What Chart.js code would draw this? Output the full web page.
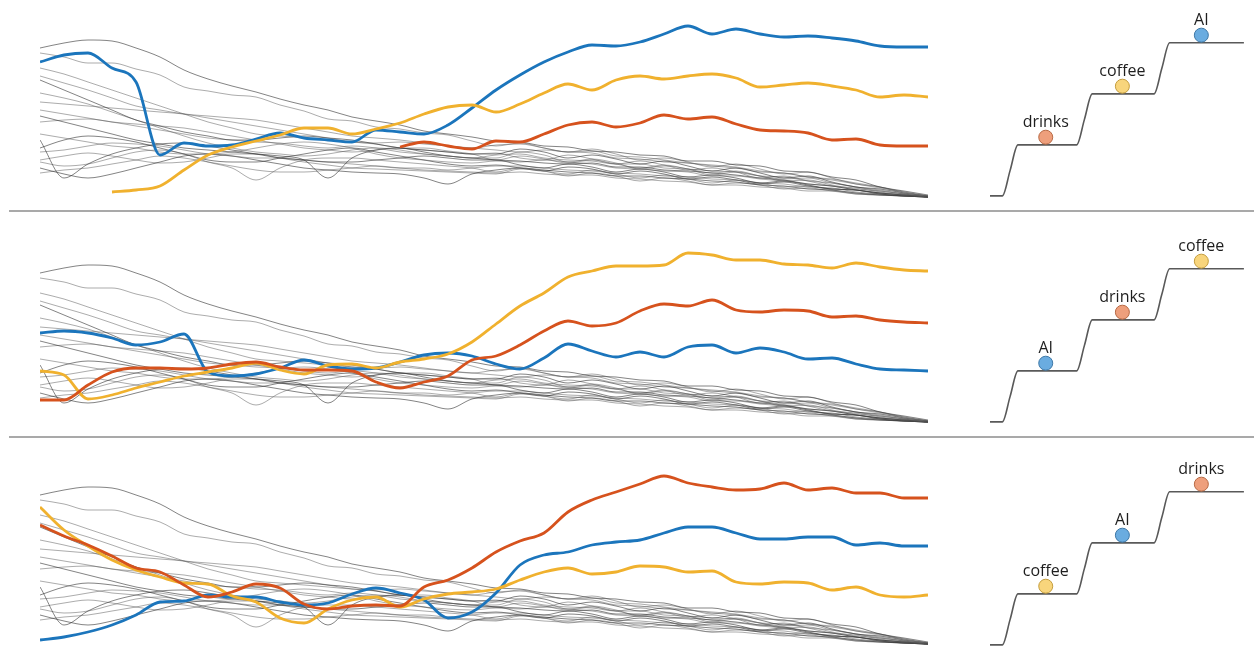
<!DOCTYPE html>
<html>
<head>
<meta charset="utf-8">
<script src="https://cdn.jsdelivr.net/npm/chart.js@4"></script>
<style>
  body { margin: 0; background: #fff; width: 1254px; height: 647px; overflow: hidden; position: relative; }
  canvas { position: absolute; }
  .rule { position: absolute; left: 9px; right: 0; height: 0; border-top: 2px solid #a9a9a9; }
</style>
</head>
<body>
<div class="rule" style="top:210px"></div>
<div class="rule" style="top:436px"></div>

<canvas id="line1" width="888" height="190" style="left:40px;top:8px"></canvas>
<canvas id="line2" width="888" height="190" style="left:40px;top:233px"></canvas>
<canvas id="line3" width="888" height="190" style="left:40px;top:455px"></canvas>

<canvas id="stair1" width="257" height="199" style="left:990px;top:2px"></canvas>
<canvas id="stair2" width="257" height="199" style="left:990px;top:228px"></canvas>
<canvas id="stair3" width="257" height="199" style="left:990px;top:451px"></canvas>

<script>
// time positions
const colX = [0,1,2,3,4,5,6,7,8,9,10,11,12,13,14,15,16,17,18,19,20,21,22,23,24,25,26,27,28,29,30,31,32,33,34,35,36,37];

// panel 1
const p1AI     = [136,143,145,130,116,43,55,52,53,59,65,60,58,56,68,66,64,73,90,108,123,136,146,153,152,156,164,172,164,169,164,161,162,160,157,152,151,151];
const p1Coffee = [null,null,null,6,8,12,28,43,51,57,63,70,70,64,69,75,84,91,93,86,94,105,114,108,118,122,119,122,124,120,111,113,115,112,108,101,103,101];
const p1Drinks = [null,null,null,null,null,null,null,null,null,null,null,null,null,null,null,51,56,52,49,57,56,64,73,76,71,75,83,79,81,74,68,67,65,58,59,53,52,52];

// panel 2
const p2AI     = [90,92,90,85,78,81,89,51,47,49,55,63,57,54,55,61,68,70,67,59,54,65,79,72,66,71,66,76,78,70,75,71,64,65,59,54,53,52];
const p2Coffee = [52,48,24,28,35,41,47,51,55,60,53,49,58,59,55,61,64,69,81,99,117,130,146,152,157,157,158,170,168,163,163,159,158,155,160,156,153,152];
const p2Drinks = [23,23,38,51,55,55,54,55,59,61,56,53,53,52,41,35,41,47,63,67,78,92,102,97,100,112,119,117,123,113,111,113,112,106,107,103,101,100];

// panel 3
const p3AI     = [5,8,13,20,30,43,44,50,48,48,43,40,42,51,57,52,45,27,33,52,80,90,93,100,103,105,112,118,118,112,106,106,108,108,100,102,99,99];
const p3Coffee = [138,115,99,85,75,68,62,61,49,43,27,22,36,45,48,38,46,51,53,56,65,73,77,71,73,79,78,73,74,63,61,63,62,55,58,50,48,50];
const p3Drinks = [120,109,100,89,77,73,60,48,53,61,57,41,36,39,40,39,58,65,77,93,104,112,133,145,153,161,169,162,158,155,156,162,155,157,152,152,147,147];

// background topics (grey)
const gray01 = [150,155,158,157,150,141,128,119,112,106,99,93,88,81,77,73,67,64,61,57,56,52,51,47,46,43,42,37,37,33,32,27,26,21,18,11,7,3];
const gray02 = [145,141,135,135,129,123,111,107,103,101,93,87,79,77,71,69,65,63,57,52,55,50,46,49,44,38,40,36,31,34,29,24,26,20,14,11,5,2];
const gray03 = [122,115,108,100,92,88,84,82,80,78,74,70,66,62,60,58,55,52,50,53,54,50,46,47,42,41,38,35,33,31,27,25,21,19,15,11,6,2];
const gray04 = [118,108,98,88,78,72,66,62,58,58,60,62,60,58,54,50,48,46,44,44,49,46,40,43,39,34,37,32,27,30,25,20,22,16,11,9,5,2];
const gray05 = [105,100,94,86,78,70,62,55,50,46,44,42,44,48,50,48,44,42,40,43,44,40,38,37,34,34,30,29,27,26,22,21,17,15,11,8,4,1];
const gray06 = [96,94,92,90,88,86,84,80,76,72,68,64,60,56,54,50,48,46,44,45,40,38,43,39,34,37,33,28,30,26,20,22,17,12,10,6,3,1];
const gray07 = [82,76,70,64,58,54,50,48,46,44,42,38,20,40,48,50,46,42,40,38,37,35,34,35,31,31,28,27,25,23,20,18,14,12,8,5,3,1];
const gray08 = [76,78,79,76,72,68,64,60,58,56,55,52,50,52,50,46,44,42,40,40,46,43,36,39,35,29,32,29,23,26,22,17,18,13,9,7,4,1];
const gray09 = [64,60,56,52,50,46,44,44,46,50,54,56,54,50,44,40,38,36,35,37,36,38,36,34,30,29,27,26,22,22,19,17,14,12,8,5,3,1];
const gray10 = [58,20,34,44,50,54,55,52,48,44,40,38,36,36,38,40,42,40,38,38,33,30,34,31,26,29,26,21,23,20,15,17,13,9,8,4,2,1];
const gray11 = [46,48,52,55,54,52,48,44,42,40,40,38,36,34,32,30,30,28,30,32,32,30,28,27,25,24,22,21,19,18,15,14,11,10,6,4,2,1];
const gray12 = [36,32,34,40,46,48,44,36,30,18,30,38,40,40,38,36,34,32,30,26,30,27,24,28,24,20,23,19,15,18,15,11,12,8,5,4,2,1];
const gray13 = [30,24,20,24,30,36,42,44,42,38,34,30,28,26,25,24,20,14,24,28,30,28,26,25,22,22,20,19,17,16,13,12,9,8,5,3,2,1];
const gray14 = [38,42,45,42,38,35,36,40,44,44,40,36,33,30,29,28,27,26,25,24,29,27,22,25,22,17,20,17,13,15,13,9,10,7,4,3,2,1];
const gray15 = [25,28,30,34,38,42,40,36,32,28,26,26,28,30,32,30,28,27,26,25,26,24,23,23,20,19,17,16,13,13,11,10,7,7,4,3,2,1];
const gray16 = [50,58,62,60,56,50,44,38,36,36,40,44,48,50,46,42,38,34,32,33,30,27,31,29,24,27,24,19,21,18,14,16,12,9,8,5,3,1];
const gray17 = [130,124,116,108,100,92,84,76,70,64,62,60,58,56,55,56,54,52,50,48,46,48,46,45,40,39,36,35,32,30,26,25,21,18,14,10,6,2];
const gray18 = [88,84,80,76,74,72,70,66,62,58,54,50,48,46,48,50,50,47,44,38,42,39,35,38,34,30,33,29,25,27,22,19,20,15,11,7,4,1];
const grayTopics = [gray01,gray02,gray03,gray04,gray05,gray06,gray07,gray08,gray09,gray10,gray11,gray12,gray13,gray14,gray15,gray16,gray17,gray18];

// staircase ranking
const stairX = [0, 0.16, 0.26, 0.36, 1.12, 1.22, 1.32, 2.12, 2.22, 2.32, 3.28];
const stairY = [0, 0, 0.5, 1, 1, 1.5, 2, 2, 2.5, 3, 3];
const rankX = [0.72, 1.71, 2.73];
const rankY = [1.15, 2.15, 3.15];
const p1Rank = ['drinks', 'coffee', 'AI'];
const p2Rank = ['AI', 'drinks', 'coffee'];
const p3Rank = ['coffee', 'AI', 'drinks'];

const lineColor = { AI: '#1b75bc', coffee: '#f0b12e', drinks: '#d6521d' };
const dotColor  = { AI: '#6aace0', coffee: '#f8d57c', drinks: '#ee9f7c' };
const dotBorder = { AI: '#3f78a6', coffee: '#c49d3e', drinks: '#b76a45' };

function toPoints(xs, ys) {
  return ys.map((v, i) => ({ x: xs[i], y: v }));
}

function makeLineChart(id, series) {
  const datasets = [];
  ['drinks', 'coffee', 'AI'].forEach(name => {
    datasets.push({
      label: name,
      data: toPoints(colX, series[name]),
      borderColor: lineColor[name],
      borderWidth: 2.8,
      pointRadius: 0,
      cubicInterpolationMode: 'monotone'
    });
  });
  grayTopics.forEach((g, i) => {
    datasets.push({
      label: 'topic ' + (i + 1),
      data: toPoints(colX, g),
      borderColor: i % 3 === 0 ? 'rgba(50,50,50,0.6)' : 'rgba(90,90,90,0.5)',
      borderWidth: 1,
      pointRadius: 0,
      cubicInterpolationMode: 'monotone'
    });
  });
  new Chart(document.getElementById(id), {
    type: 'line',
    data: { datasets: datasets },
    options: {
      responsive: false,
      animation: false,
      devicePixelRatio: 1,
      layout: { padding: 0, autoPadding: false },
      plugins: { legend: { display: false }, tooltip: { enabled: false } },
      scales: {
        x: { type: 'linear', min: 0, max: 37, display: false },
        y: { min: 0, max: 190, display: false }
      }
    }
  });
}

const stairLabels = {
  id: 'stairLabels',
  afterDatasetsDraw(chart) {
    const ds = chart.data.datasets[0];
    const meta = chart.getDatasetMeta(0);
    const ctx = chart.ctx;
    ctx.save();
    ctx.font = '16px "Open Sans"';
    ctx.fillStyle = '#1e1e1e';
    ctx.textAlign = 'center';
    ctx.textBaseline = 'alphabetic';
    meta.data.forEach((pt, i) => {
      ctx.fillText(ds.names[i], pt.x, pt.y - 10);
    });
    ctx.restore();
  }
};

function makeStairChart(id, rank) {
  new Chart(document.getElementById(id), {
    type: 'line',
    data: {
      datasets: [
        {
          names: rank,
          data: toPoints(rankX, rankY),
          showLine: false,
          pointRadius: 7,
          pointBorderWidth: 1,
          pointBackgroundColor: rank.map(n => dotColor[n]),
          pointBorderColor: rank.map(n => dotBorder[n])
        },
        {
          data: toPoints(stairX, stairY),
          borderColor: '#595959',
          borderWidth: 1.6,
          pointRadius: 0,
          cubicInterpolationMode: 'monotone'
        }
      ]
    },
    options: {
      responsive: false,
      animation: false,
      devicePixelRatio: 1,
      layout: { padding: 0, autoPadding: false },
      plugins: { legend: { display: false }, tooltip: { enabled: false } },
      scales: {
        x: { type: 'linear', min: 0, max: 3.32, display: false },
        y: { min: -0.1, max: 3.8, display: false }
      }
    },
    plugins: [stairLabels]
  });
}

makeLineChart('line1', { AI: p1AI, coffee: p1Coffee, drinks: p1Drinks });
makeLineChart('line2', { AI: p2AI, coffee: p2Coffee, drinks: p2Drinks });
makeLineChart('line3', { AI: p3AI, coffee: p3Coffee, drinks: p3Drinks });

makeStairChart('stair1', p1Rank);
makeStairChart('stair2', p2Rank);
makeStairChart('stair3', p3Rank);
</script>
</body>
</html>
